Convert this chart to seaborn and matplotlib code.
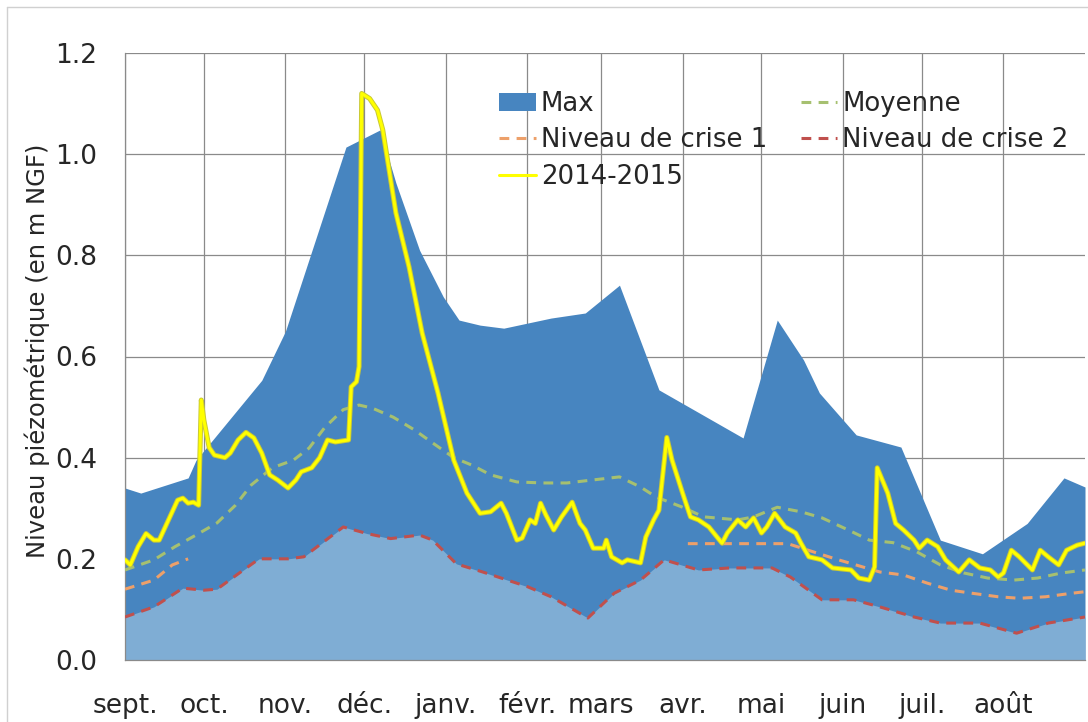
import matplotlib
matplotlib.use("Agg")
import matplotlib.pyplot as plt
import matplotlib.patheffects as pe
from matplotlib.patches import Patch
from matplotlib.lines import Line2D
import seaborn as sns
import pandas as pd
import numpy as np

# day offsets are counted from 1 Sept 2014
start = pd.Timestamp("2014-09-01")
month_labels = ["sept.", "oct.", "nov.", "déc.", "janv.", "févr.",
                "mars", "avr.", "mai", "juin", "juil.", "août"]
y_ticks = [0.0, 0.2, 0.4, 0.6, 0.8, 1.0, 1.2]

max_days = [0, 6, 24, 27, 52, 61, 84, 97, 103, 112, 121, 127, 135, 144, 162,
            175, 188, 203, 235, 248, 258, 264, 278, 295, 310, 326, 343, 357, 365]
max_vals = [0.34, 0.33, 0.36, 0.395, 0.553, 0.65, 1.014, 1.048, 0.943, 0.81, 0.718,
            0.672, 0.662, 0.656, 0.676, 0.686, 0.741, 0.534, 0.439, 0.672, 0.593,
            0.528, 0.445, 0.421, 0.237, 0.21, 0.27, 0.36, 0.342]

crise2_days = [0, 11, 22, 30, 35, 44, 51, 62, 68, 83, 92, 101, 112, 117, 126, 136,
               153, 162, 176, 186, 196, 205, 218, 230, 246, 253, 265, 277, 287,
               300, 310, 325, 339, 351, 365]
crise2_vals = [0.085, 0.105, 0.142, 0.138, 0.14, 0.174, 0.20, 0.20, 0.204, 0.263,
               0.25, 0.24, 0.247, 0.237, 0.19, 0.174, 0.145, 0.125, 0.083, 0.132,
               0.158, 0.198, 0.178, 0.182, 0.182, 0.164, 0.119, 0.119, 0.105,
               0.085, 0.073, 0.073, 0.053, 0.073, 0.085]

crise1_days_autumn = [0, 11, 18, 24]
crise1_vals_autumn = [0.14, 0.158, 0.188, 0.20]
crise1_days_spring = [214, 232, 252, 270, 287, 296, 305, 314, 322, 332, 340, 350, 360, 365]
crise1_vals_spring = [0.23, 0.23, 0.23, 0.20, 0.174, 0.168, 0.152, 0.138, 0.132,
                      0.125, 0.122, 0.125, 0.132, 0.135]

moy_days = [0, 11, 19, 27, 35, 42, 48, 56, 64, 70, 76, 83, 89, 94, 102, 110, 117,
            125, 132, 139, 149, 159, 168, 178, 188, 196, 202, 212, 220, 233, 239,
            248, 257, 265, 275, 283, 292, 301, 310, 319, 328, 338, 347, 356, 365]
moy_vals = [0.178, 0.198, 0.224, 0.247, 0.271, 0.306, 0.346, 0.38, 0.395, 0.419,
            0.46, 0.495, 0.504, 0.498, 0.48, 0.455, 0.429, 0.40, 0.385, 0.366,
            0.352, 0.35, 0.35, 0.356, 0.362, 0.342, 0.322, 0.302, 0.283, 0.277,
            0.283, 0.302, 0.293, 0.281, 0.257, 0.237, 0.232, 0.214, 0.188, 0.172,
            0.162, 0.158, 0.162, 0.172, 0.178]

y1415_days = [0, 2, 5, 8, 11, 13, 20, 22, 24, 26, 28, 29, 30, 32, 34, 38, 40, 43,
              46, 49, 52, 55, 58, 62, 65, 67, 71, 74, 77, 80, 85, 86, 88, 89, 90,
              93, 96, 98, 103, 108, 113, 119, 125, 130, 135, 139, 143, 145, 149,
              151, 154, 156, 158, 160, 163, 166, 170, 173, 175, 178, 182, 183, 185,
              189, 191, 196, 198, 201, 203, 206, 208, 212, 215, 218, 222, 227, 229,
              233, 236, 239, 242, 244, 247, 251, 255, 257, 260, 265, 269, 276, 279,
              283, 285, 286, 290, 293, 296, 300, 302, 305, 309, 312, 317, 321, 325,
              329, 332, 334, 337, 340, 345, 348, 351, 355, 358, 362, 365]
y1415_vals = [0.198, 0.188, 0.224, 0.25, 0.237, 0.237, 0.316, 0.32, 0.31, 0.312,
              0.306, 0.514, 0.474, 0.42, 0.405, 0.40, 0.409, 0.435, 0.45, 0.439,
              0.409, 0.366, 0.356, 0.34, 0.356, 0.372, 0.38, 0.40, 0.435, 0.431,
              0.435, 0.54, 0.55, 0.58, 1.12, 1.11, 1.087, 1.048, 0.884, 0.777,
              0.646, 0.528, 0.395, 0.33, 0.29, 0.293, 0.31, 0.29, 0.237, 0.241,
              0.277, 0.27, 0.31, 0.287, 0.257, 0.283, 0.312, 0.27, 0.257, 0.221,
              0.221, 0.237, 0.204, 0.192, 0.198, 0.192, 0.243, 0.277, 0.296, 0.44,
              0.395, 0.33, 0.283, 0.277, 0.263, 0.231, 0.251, 0.277, 0.263, 0.281,
              0.251, 0.263, 0.29, 0.263, 0.251, 0.231, 0.204, 0.198, 0.182, 0.178,
              0.162, 0.158, 0.184, 0.38, 0.33, 0.27, 0.257, 0.237, 0.221, 0.237,
              0.224, 0.198, 0.174, 0.198, 0.182, 0.178, 0.164, 0.172, 0.217, 0.204,
              0.178, 0.217, 0.204, 0.188, 0.217, 0.227, 0.231]


def to_dates(days):
    return start + pd.to_timedelta(np.array(days), unit="D")


def main():
    sns.set_style("white")
    plt.rcParams["font.family"] = ["DejaVu Sans"]

    c_max = "#4785c0"
    c_low = "#7fadd4"
    c_moy = "#a6c070"
    c_c1 = "#eda06a"
    c_c2 = "#c0504d"
    c_yel = "#ffff00"
    c_grid = "#8a8a8a"
    c_txt = "#262626"

    fig = plt.figure(figsize=(10.88, 7.22), dpi=100)
    ax = fig.add_axes([125 / 1088, 1 - 660 / 722, 960 / 1088, 607 / 722])

    ax.fill_between(to_dates(max_days), max_vals, 0, color=c_max, lw=0, zorder=1)
    ax.fill_between(to_dates(crise2_days), crise2_vals, 0, color=c_low, lw=0, zorder=1.5)

    dash = (3.2, 2.4)
    sns.lineplot(x=to_dates(crise2_days), y=crise2_vals, ax=ax, color=c_c2, lw=2.2, zorder=3)
    ax.lines[-1].set_dashes(dash)
    for d, v in [(crise1_days_autumn, crise1_vals_autumn),
                 (crise1_days_spring, crise1_vals_spring)]:
        sns.lineplot(x=to_dates(d), y=v, ax=ax, color=c_c1, lw=2.2, zorder=3)
        ax.lines[-1].set_dashes(dash)
    sns.lineplot(x=to_dates(moy_days), y=moy_vals, ax=ax, color=c_moy, lw=2.2, zorder=3)
    ax.lines[-1].set_dashes(dash)
    sns.lineplot(x=to_dates(y1415_days), y=y1415_vals, ax=ax, color=c_yel, lw=2.2,
                 zorder=4)
    ax.lines[-1].set_path_effects([pe.Stroke(linewidth=3.6, foreground="#c9c935"),
                                   pe.Normal()])

    ax.set_xlim(start, start + pd.Timedelta(days=365))
    ax.set_ylim(0, 1.2)
    month_starts = pd.date_range(start, periods=12, freq="MS")
    ax.set_xticks(month_starts)
    ax.set_xticklabels(month_labels)
    ax.set_yticks(y_ticks)
    ax.set_yticklabels([f"{t:.1f}" for t in y_ticks])
    ax.tick_params(axis="both", labelsize=19, colors=c_grid, labelcolor=c_txt,
                   length=7, width=1, direction="out")
    ax.tick_params(axis="y", pad=13)
    ax.tick_params(axis="x", pad=17)
    ax.grid(True, color=c_grid, lw=0.9)
    for g in ax.get_xgridlines() + ax.get_ygridlines():
        g.set_zorder(2)
    for s in ["top", "right"]:
        ax.spines[s].set_visible(False)
    for s in ["left", "bottom"]:
        ax.spines[s].set_color(c_grid)
        ax.spines[s].set_linewidth(0.9)
    ax.set_xlabel("")
    ax.set_ylabel("Niveau piézométrique (en m NGF)", fontsize=17.5, color=c_txt)
    ax.yaxis.set_label_coords(-0.078, 0.51)

    handles = [
        Patch(facecolor=c_max, edgecolor="none"),
        Line2D([], [], color=c_c1, lw=2.2, dashes=dash),
        Line2D([], [], color=c_yel, lw=2.2),
        Line2D([], [], color=c_moy, lw=2.2, dashes=dash),
        Line2D([], [], color=c_c2, lw=2.2, dashes=dash),
    ]
    labels = ["Max", "Niveau de crise 1", "2014-2015", "Moyenne", "Niveau de crise 2"]
    ax.legend(handles, labels, ncol=2, frameon=False, fontsize=18.7,
              loc="upper left", bbox_to_anchor=(0.379, 0.955),
              handlelength=1.4, handletextpad=0.2, columnspacing=1.3,
              labelspacing=0.41, borderaxespad=0)

    fig.add_artist(Line2D([7 / 1088, 7 / 1088], [0, 1 - 7 / 722], color="#d0d0d0", lw=1))
    fig.add_artist(Line2D([7 / 1088, 1], [1 - 7 / 722, 1 - 7 / 722], color="#d0d0d0", lw=1))

    fig.savefig("out.png", dpi=100)


if __name__ == "__main__":
    main()
